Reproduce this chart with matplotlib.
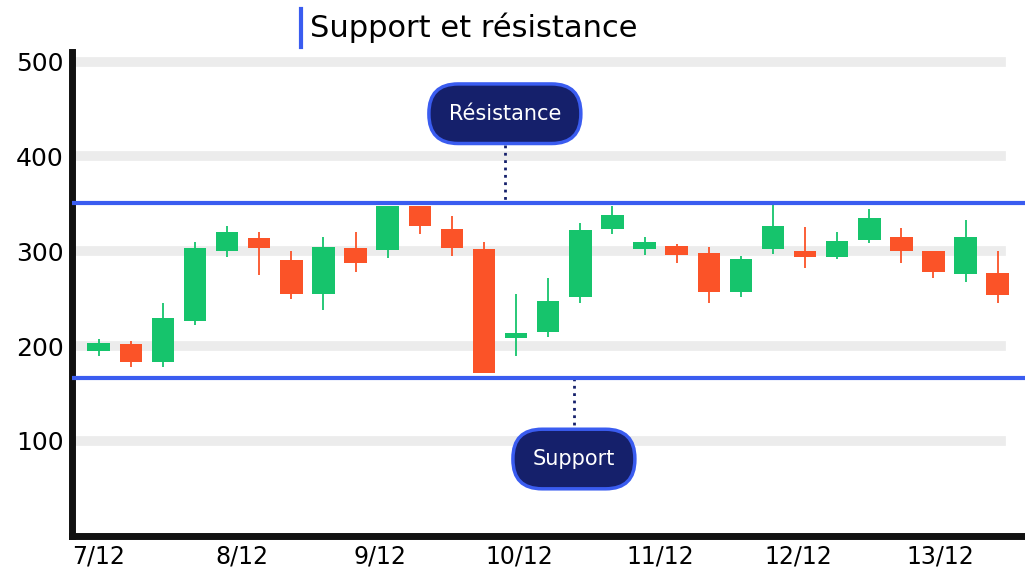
import matplotlib
matplotlib.use("Agg")
import matplotlib.pyplot as plt

opens  = [195,202,183,226,300,314,291,255,303,301,348,323,302,209,215,252,323,302,306,298,257,302,300,294,312,315,300,276,277]
closes = [203,183,230,303,320,303,255,305,288,348,327,303,172,214,248,322,338,310,296,257,292,327,294,311,335,300,278,315,254]
highs  = [207,205,245,310,327,320,300,315,320,348,348,337,310,255,272,330,348,315,308,305,295,350,326,320,345,325,300,333,300]
lows   = [190,178,178,222,294,275,250,238,278,293,318,295,172,190,210,245,318,296,288,245,252,297,282,292,309,288,272,268,245]
date_labels = ["7/12","8/12","9/12","10/12","11/12","12/12","13/12"]
date_pos = [0,4.45,8.75,13.1,17.5,21.8,26.2]
yticks = [100,200,300,400,500]
resistance = 351
support = 166

GREEN = "#16c46c"; RED = "#fb5328"; BLUE = "#3a5cf0"; NAVY = "#15206b"

fig = plt.figure(figsize=(10.25,5.85), dpi=100)
ax = fig.add_axes([0.070,0.084,0.93,0.827])
ax.set_xlim(-0.84,28.85)
ax.set_ylim(0,510)
for v in yticks:
    ax.axhline(v, xmin=0.006, xmax=0.975, color="#ececec", lw=7, zorder=0)
for i,(o,c,h,l) in enumerate(zip(opens,closes,highs,lows)):
    col = GREEN if c>=o else RED
    ax.vlines(i,l,h,color=col,lw=1.3,zorder=2)
    ax.bar(i,abs(c-o) if abs(c-o)>3 else 4,bottom=min(o,c),width=0.7,color=col,zorder=3)
ax.axhline(resistance,color=BLUE,lw=3,zorder=4)
ax.axhline(support,color=BLUE,lw=3,zorder=4)
ax.plot([12.65,12.65],[412,resistance],ls=":",color=NAVY,lw=2)
ax.plot([14.8,14.8],[support,112],ls=":",color=NAVY,lw=2)
for (x,y,t) in [(12.65,445,"Résistance"),(14.8,81,"Support")]:
    ax.text(x,y,t,ha="center",va="center",color="white",fontsize=15,zorder=6,
            bbox=dict(boxstyle="round,pad=0.95,rounding_size=1.4",fc=NAVY,ec=BLUE,lw=2.5))
ax.set_yticks(yticks)
ax.set_yticklabels([str(v) for v in yticks],fontsize=18)
ax.set_xticks(date_pos)
ax.set_xticklabels(date_labels,fontsize=17)
ax.tick_params(length=0,pad=6)
for s in ["top","right"]:
    ax.spines[s].set_visible(False)
for s in ["left","bottom"]:
    ax.spines[s].set_linewidth(5)
    ax.spines[s].set_color("#111")
fig.text(0.302,0.952,"Support et résistance",fontsize=22,va="center",ha="left")
fig.add_artist(plt.Line2D([0.2935,0.2935],[0.92,0.985],color=BLUE,lw=3,transform=fig.transFigure))
fig.savefig("out.png")
